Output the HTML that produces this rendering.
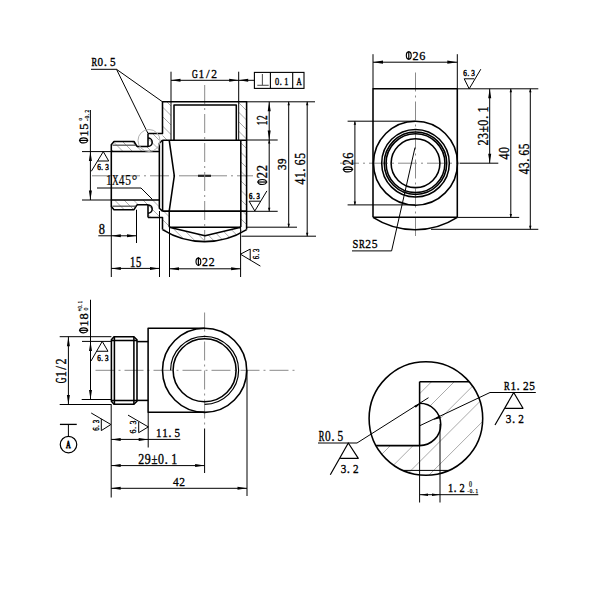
<!DOCTYPE html><html><head><meta charset="utf-8"><style>html,body{margin:0;padding:0;background:#fff;}svg{display:block}</style></head><body>
<svg width="600" height="600" viewBox="0 0 600 600" style="background:#fff">
<clipPath id="hc1"><path d="M162.5,101.8 L171,101.8 L171,140 L162.5,140 Z"/></clipPath><g clip-path="url(#hc1)" stroke="#a0a0a0" stroke-width="0.9"><line x1="117.50" y1="100" x2="159.50" y2="142"/><line x1="127.00" y1="100" x2="169.00" y2="142"/><line x1="136.50" y1="100" x2="178.50" y2="142"/><line x1="146.00" y1="100" x2="188.00" y2="142"/><line x1="155.50" y1="100" x2="197.50" y2="142"/><line x1="165.00" y1="100" x2="207.00" y2="142"/></g>
<clipPath id="hc2"><path d="M148,133.5 L162.5,133.5 L162.5,140 L159.35,140 L159.35,151.5 L137,151.5 L137,146.5 L148,146.5 Z M114,141.5 L134,141.5 L137,146.5 L137,151.5 L111.3,151.5 L111.3,144.7 Z"/></clipPath><g clip-path="url(#hc2)" stroke="#a0a0a0" stroke-width="0.9"><line x1="84.50" y1="132" x2="105.50" y2="153"/><line x1="94.00" y1="132" x2="115.00" y2="153"/><line x1="103.50" y1="132" x2="124.50" y2="153"/><line x1="113.00" y1="132" x2="134.00" y2="153"/><line x1="122.50" y1="132" x2="143.50" y2="153"/><line x1="132.00" y1="132" x2="153.00" y2="153"/><line x1="141.50" y1="132" x2="162.50" y2="153"/><line x1="151.00" y1="132" x2="172.00" y2="153"/><line x1="160.50" y1="132" x2="181.50" y2="153"/></g>
<clipPath id="hc3"><path d="M238.7,101.8 L246.6,101.8 L246.6,230.8 L240.8,227 L240.8,140 L238.7,140 Z"/></clipPath><g clip-path="url(#hc3)" stroke="#a0a0a0" stroke-width="0.9"><line x1="103.00" y1="100" x2="236.00" y2="233"/><line x1="112.50" y1="100" x2="245.50" y2="233"/><line x1="122.00" y1="100" x2="255.00" y2="233"/><line x1="131.50" y1="100" x2="264.50" y2="233"/><line x1="141.00" y1="100" x2="274.00" y2="233"/><line x1="150.50" y1="100" x2="283.50" y2="233"/><line x1="160.00" y1="100" x2="293.00" y2="233"/><line x1="169.50" y1="100" x2="302.50" y2="233"/><line x1="179.00" y1="100" x2="312.00" y2="233"/><line x1="188.50" y1="100" x2="321.50" y2="233"/><line x1="198.00" y1="100" x2="331.00" y2="233"/><line x1="207.50" y1="100" x2="340.50" y2="233"/><line x1="217.00" y1="100" x2="350.00" y2="233"/><line x1="226.50" y1="100" x2="359.50" y2="233"/><line x1="236.00" y1="100" x2="369.00" y2="233"/><line x1="245.50" y1="100" x2="378.50" y2="233"/></g>
<clipPath id="hc4"><path d="M148,204.75 L148,217.5 L162.5,217.5 L162.5,231 L169.25,227.25 L169.25,211.1 L162.5,211.1 L159.35,208.5 L159.35,199.9 L137,199.9 L137,204.75 Z M111.3,199.9 L137,199.9 L137,204.75 L134,209.7 L114,209.7 L111.3,206.5 Z"/></clipPath><g clip-path="url(#hc4)" stroke="#a0a0a0" stroke-width="0.9"><line x1="74.50" y1="198" x2="109.50" y2="233"/><line x1="84.00" y1="198" x2="119.00" y2="233"/><line x1="93.50" y1="198" x2="128.50" y2="233"/><line x1="103.00" y1="198" x2="138.00" y2="233"/><line x1="112.50" y1="198" x2="147.50" y2="233"/><line x1="122.00" y1="198" x2="157.00" y2="233"/><line x1="131.50" y1="198" x2="166.50" y2="233"/><line x1="141.00" y1="198" x2="176.00" y2="233"/><line x1="150.50" y1="198" x2="185.50" y2="233"/><line x1="160.00" y1="198" x2="195.00" y2="233"/><line x1="169.50" y1="198" x2="204.50" y2="233"/></g>
<clipPath id="hc5"><path d="M162.5,229.6 A79.5,79.5 0 0 0 246.6,229.6 L240.8,227 L205,235.8 L169.25,227 Z"/></clipPath><g clip-path="url(#hc5)" stroke="#a0a0a0" stroke-width="0.9"><line x1="131.70" y1="225" x2="150.70" y2="244"/><line x1="141.20" y1="225" x2="160.20" y2="244"/><line x1="150.70" y1="225" x2="169.70" y2="244"/><line x1="160.20" y1="225" x2="179.20" y2="244"/><line x1="169.70" y1="225" x2="188.70" y2="244"/><line x1="179.20" y1="225" x2="198.20" y2="244"/><line x1="188.70" y1="225" x2="207.70" y2="244"/><line x1="198.20" y1="225" x2="217.20" y2="244"/><line x1="207.70" y1="225" x2="226.70" y2="244"/><line x1="217.20" y1="225" x2="236.20" y2="244"/><line x1="226.70" y1="225" x2="245.70" y2="244"/><line x1="236.20" y1="225" x2="255.20" y2="244"/><line x1="245.70" y1="225" x2="264.70" y2="244"/></g>
<line x1="92" y1="175.8" x2="253" y2="175.8" stroke="#8a8a8a" stroke-width="1.0" stroke-dasharray="19 4 2 4"/>
<line x1="198" y1="175.8" x2="211" y2="175.8" stroke="#222" stroke-width="2.2"/>
<line x1="204.7" y1="85" x2="204.7" y2="240" stroke="#8a8a8a" stroke-width="1.0" stroke-dasharray="19 4 2 4"/>
<path d="M148,133.5 L162.5,133.5 L162.5,101.8 L246.6,101.8 L246.6,229.6" stroke="#000" stroke-width="1.55" fill="none" stroke-linejoin="round"/>
<path d="M137,146.5 L134,141.5 L114,141.5 L111.3,144.7 L111.3,206.5 L114,209.7 L134,209.7 L137,204.75" stroke="#000" stroke-width="1.55" fill="none" stroke-linejoin="round"/>
<line x1="137" y1="146.5" x2="148" y2="146.5" stroke="#000" stroke-width="1.55"/>
<line x1="148" y1="133.5" x2="148" y2="146.5" stroke="#000" stroke-width="1.55"/>
<path d="M148,138 A4.2,4.2 0 0 1 148,146.4" stroke="#000" stroke-width="1.55" fill="none" stroke-linejoin="round"/>
<line x1="137" y1="204.75" x2="148" y2="204.75" stroke="#000" stroke-width="1.55"/>
<line x1="148" y1="204.75" x2="148" y2="217.5" stroke="#000" stroke-width="1.55"/>
<path d="M148,204.9 A4.2,4.2 0 0 1 148,213.3" stroke="#000" stroke-width="1.55" fill="none" stroke-linejoin="round"/>
<path d="M148,217.5 L162.5,217.5 L162.5,229.6" stroke="#000" stroke-width="1.55" fill="none" stroke-linejoin="round"/>
<path d="M162.5,229.6 A79.5,79.5 0 0 0 246.6,229.6" stroke="#000" stroke-width="1.55" fill="none" stroke-linejoin="round"/>
<line x1="111.3" y1="151.5" x2="159.35" y2="151.5" stroke="#000" stroke-width="1.55"/>
<line x1="111.3" y1="199.9" x2="159.35" y2="199.9" stroke="#000" stroke-width="1.55"/>
<line x1="112.5" y1="145.2" x2="135.5" y2="145.2" stroke="#555" stroke-width="1.3"/>
<line x1="112.5" y1="206.2" x2="135.5" y2="206.2" stroke="#555" stroke-width="1.3"/>
<line x1="162.3" y1="140.2" x2="246.6" y2="140.2" stroke="#000" stroke-width="1.55"/>
<line x1="162.3" y1="211.1" x2="246.6" y2="211.1" stroke="#000" stroke-width="1.55"/>
<path d="M162.4,140.2 L159.35,143.2 L159.35,208.3 L162.4,211.1" stroke="#000" stroke-width="1.55" fill="none" stroke-linejoin="round"/>
<line x1="162.6" y1="140.2" x2="162.6" y2="211.1" stroke="#000" stroke-width="1.55"/>
<path d="M169.2,140.2 L174.3,175.8 L169.2,211.1" stroke="#000" stroke-width="1.55" fill="none" stroke-linejoin="round"/>
<path d="M174,140 L174,105 L236.3,105 L236.3,140" stroke="#000" stroke-width="1.55" fill="none" stroke-linejoin="round"/>
<line x1="171" y1="101.8" x2="171" y2="140" stroke="#000" stroke-width="1.0"/>
<line x1="238.7" y1="101.8" x2="238.7" y2="140" stroke="#000" stroke-width="1.0"/>
<line x1="240.8" y1="140" x2="240.8" y2="227" stroke="#000" stroke-width="1.55"/>
<line x1="169.25" y1="211.1" x2="169.25" y2="227.2" stroke="#000" stroke-width="1.55"/>
<line x1="169.25" y1="227.2" x2="240.8" y2="227.2" stroke="#000" stroke-width="1.55"/>
<path d="M169.25,227.2 L205,235.8 L240.8,227.2" stroke="#000" stroke-width="1.55" fill="none" stroke-linejoin="round"/>
<line x1="171" y1="71.7" x2="171" y2="101.8" stroke="#000" stroke-width="1.0"/>
<line x1="238.7" y1="71.7" x2="238.7" y2="101.8" stroke="#000" stroke-width="1.0"/>
<line x1="171" y1="80.3" x2="238.7" y2="80.3" stroke="#000" stroke-width="1.0"/>
<path d="M171,80.3 L180.50,78.80 L180.50,81.80 Z" fill="#000"/>
<path d="M238.7,80.3 L229.20,81.80 L229.20,78.80 Z" fill="#000"/>
<g transform="translate(191.80 77.90)" font-size="13.03" font-family="Liberation Serif" fill="#000" stroke="#000" text-anchor="middle"><text transform="translate(3.20 0) scale(0.612 1)" stroke-width="0.49">G</text><text transform="translate(9.60 0) scale(0.884 1)" stroke-width="0.34">1</text><text transform="translate(16.00 0) scale(1.000 1)" stroke-width="0.30">/</text><text transform="translate(22.40 0) scale(0.884 1)" stroke-width="0.34">2</text></g>
<line x1="238.7" y1="80.3" x2="254.4" y2="80.3" stroke="#000" stroke-width="1.0"/>
<path d="M238.7,80.3 L248.20,78.80 L248.20,81.80 Z" fill="#000"/>
<rect x="254.4" y="72.4" width="49.6" height="16" fill="none" stroke="#000" stroke-width="1.1"/>
<line x1="270.4" y1="72.4" x2="270.4" y2="88.4" stroke="#000" stroke-width="1.1"/>
<line x1="292.7" y1="72.4" x2="292.7" y2="88.4" stroke="#000" stroke-width="1.1"/>
<line x1="262.4" y1="74" x2="262.4" y2="85.3" stroke="#555" stroke-width="1.1"/>
<line x1="257.3" y1="85.3" x2="268.7" y2="85.3" stroke="#555" stroke-width="1.1"/>
<g transform="translate(274.80 84.60)" font-size="9.85" font-family="Liberation Serif" fill="#000" stroke="#000" text-anchor="middle"><text transform="translate(2.30 0) scale(0.841 1)" stroke-width="0.36">0</text><text transform="translate(5.98 0) scale(1.000 1)" stroke-width="0.30">.</text><text transform="translate(11.50 0) scale(0.841 1)" stroke-width="0.36">1</text></g>
<g transform="translate(296.10 84.60)" font-size="9.85" font-family="Liberation Serif" fill="#000" stroke="#000" text-anchor="middle"><text transform="translate(2.90 0) scale(0.734 1)" stroke-width="0.41">A</text></g>
<g transform="translate(91.10 65.90)" font-size="13.33" font-family="Liberation Serif" fill="#000" stroke="#000" text-anchor="middle"><text transform="translate(3.10 0) scale(0.627 1)" stroke-width="0.48">R</text><text transform="translate(9.30 0) scale(0.837 1)" stroke-width="0.36">0</text><text transform="translate(14.26 0) scale(1.000 1)" stroke-width="0.30">.</text><text transform="translate(21.70 0) scale(0.837 1)" stroke-width="0.36">5</text></g>
<line x1="91" y1="69.3" x2="116.5" y2="69.3" stroke="#000" stroke-width="1.0"/>
<line x1="116.5" y1="69.3" x2="162.5" y2="101.8" stroke="#000" stroke-width="1.0"/>
<line x1="116.5" y1="69.3" x2="148" y2="133.5" stroke="#000" stroke-width="1.0"/>
<circle cx="149" cy="140.5" r="11" stroke="#b0b0b0" stroke-width="1.0" fill="none"/>
<line x1="246.6" y1="101.8" x2="315" y2="101.8" stroke="#000" stroke-width="1.0"/>
<line x1="246.6" y1="140" x2="277.7" y2="140" stroke="#000" stroke-width="1.0"/>
<line x1="246.6" y1="211.3" x2="277.7" y2="211.3" stroke="#000" stroke-width="1.0"/>
<line x1="246.6" y1="227.2" x2="297" y2="227.2" stroke="#000" stroke-width="1.0"/>
<line x1="241.5" y1="236.2" x2="316" y2="236.2" stroke="#000" stroke-width="1.0"/>
<line x1="269.2" y1="101.8" x2="269.2" y2="211.3" stroke="#000" stroke-width="1.0"/>
<path d="M269.2,101.8 L270.70,111.30 L267.70,111.30 Z" fill="#000"/>
<path d="M269.2,140 L267.70,130.50 L270.70,130.50 Z" fill="#000"/>
<path d="M269.2,140 L270.40,143.50 L268.00,143.50 Z" fill="#000"/>
<path d="M269.2,211.3 L268.00,207.80 L270.40,207.80 Z" fill="#000"/>
<line x1="288.7" y1="101.8" x2="288.7" y2="227.2" stroke="#000" stroke-width="1.0"/>
<path d="M288.7,101.8 L289.90,105.30 L287.50,105.30 Z" fill="#000"/>
<path d="M288.7,227.2 L287.50,223.70 L289.90,223.70 Z" fill="#000"/>
<line x1="307.2" y1="101.8" x2="307.2" y2="236.2" stroke="#000" stroke-width="1.0"/>
<path d="M307.2,101.8 L308.40,105.30 L306.00,105.30 Z" fill="#000"/>
<path d="M307.2,236.2 L306.00,232.70 L308.40,232.70 Z" fill="#000"/>
<g transform="translate(266.65 125.40) rotate(-90)" font-size="14.09" font-family="Liberation Serif" fill="#000" stroke="#000" text-anchor="middle"><text transform="translate(2.58 0) scale(0.658 1)" stroke-width="0.46">1</text><text transform="translate(7.73 0) scale(0.658 1)" stroke-width="0.46">2</text></g>
<g transform="translate(267.00 185.50) rotate(-90)" font-size="14.39" font-family="Liberation Serif" fill="#000" stroke="#000" text-anchor="middle"><ellipse cx="3.47" cy="-4.75" rx="2.50" ry="4.18" fill="none" stroke-width="1.15"/><line x1="3.47" y1="-9.79" x2="3.47" y2="0.28" stroke-width="1.2"/><text transform="translate(10.40 0) scale(0.867 1)" stroke-width="0.35">2</text><text transform="translate(17.33 0) scale(0.867 1)" stroke-width="0.35">2</text></g>
<g transform="translate(286.40 170.40) rotate(-90)" font-size="13.33" font-family="Liberation Serif" fill="#000" stroke="#000" text-anchor="middle"><text transform="translate(3.08 0) scale(0.830 1)" stroke-width="0.36">3</text><text transform="translate(9.23 0) scale(0.830 1)" stroke-width="0.36">9</text></g>
<g transform="translate(304.90 184.90) rotate(-90)" font-size="14.85" font-family="Liberation Serif" fill="#000" stroke="#000" text-anchor="middle"><text transform="translate(3.23 0) scale(0.783 1)" stroke-width="0.38">4</text><text transform="translate(9.69 0) scale(0.783 1)" stroke-width="0.38">1</text><text transform="translate(14.86 0) scale(1.000 1)" stroke-width="0.30">.</text><text transform="translate(22.61 0) scale(0.783 1)" stroke-width="0.38">6</text><text transform="translate(29.07 0) scale(0.783 1)" stroke-width="0.38">5</text></g>
<path d="M249.1,201.2 L260.6,201.2" stroke="#000" stroke-width="1.0" fill="none" stroke-linejoin="round"/>
<path d="M249.1,201.2 L254.8,211 L266.9,190.9" stroke="#000" stroke-width="1.0" fill="none" stroke-linejoin="round"/>
<g transform="translate(248.90 198.60)" font-size="8.48" font-family="Liberation Serif" fill="#000" stroke="#000" text-anchor="middle"><text transform="translate(1.87 0) scale(0.792 1)" stroke-width="0.57">6</text><text transform="translate(4.85 0) scale(1.000 1)" stroke-width="0.45">.</text><text transform="translate(9.33 0) scale(0.792 1)" stroke-width="0.57">3</text></g>
<path d="M260.4,266.1 L240.4,254.2 L250.2,249.1 L250.2,260.1" stroke="#000" stroke-width="1.0" fill="none" stroke-linejoin="round"/>
<g transform="translate(259.00 259.40) rotate(-90)" font-size="8.79" font-family="Liberation Serif" fill="#000" stroke="#000" text-anchor="middle"><text transform="translate(1.83 0) scale(0.751 1)" stroke-width="0.40">6</text><text transform="translate(4.77 0) scale(1.000 1)" stroke-width="0.30">.</text><text transform="translate(9.17 0) scale(0.751 1)" stroke-width="0.40">3</text></g>
<line x1="90.4" y1="110" x2="90.4" y2="200" stroke="#000" stroke-width="1.0"/>
<line x1="82" y1="151.6" x2="111.3" y2="151.6" stroke="#000" stroke-width="1.0"/>
<line x1="82" y1="200" x2="111.3" y2="200" stroke="#000" stroke-width="1.0"/>
<path d="M90.4,151.6 L91.90,161.10 L88.90,161.10 Z" fill="#000"/>
<path d="M90.4,200 L88.90,190.50 L91.90,190.50 Z" fill="#000"/>
<g transform="translate(88.00 143.90) rotate(-90)" font-size="13.33" font-family="Liberation Serif" fill="#000" stroke="#000" text-anchor="middle"><ellipse cx="3.47" cy="-4.40" rx="2.50" ry="3.87" fill="none" stroke-width="1.15"/><line x1="3.47" y1="-9.06" x2="3.47" y2="0.26" stroke-width="1.2"/><text transform="translate(10.40 0) scale(0.936 1)" stroke-width="0.32">1</text><text transform="translate(17.33 0) scale(0.936 1)" stroke-width="0.32">5</text></g>
<g transform="translate(82.00 120.90) rotate(-90)" font-size="4.77" font-family="Liberation Serif" fill="#000" stroke="#000" text-anchor="middle"><text transform="translate(1.70 0) scale(1.000 1)" stroke-width="0.20">0</text></g>
<g transform="translate(88.80 121.80) rotate(-90)" font-size="6.52" font-family="Liberation Serif" fill="#000" stroke="#000" text-anchor="middle"><text transform="translate(1.53 0) scale(1.000 1)" stroke-width="0.20">-</text><text transform="translate(4.58 0) scale(0.843 1)" stroke-width="0.24">0</text><text transform="translate(7.02 0) scale(1.000 1)" stroke-width="0.20">.</text><text transform="translate(10.68 0) scale(0.843 1)" stroke-width="0.24">2</text></g>
<path d="M91.3,171.3 L103.3,151.6 L108.7,161 L97.5,161" stroke="#000" stroke-width="1.0" fill="none" stroke-linejoin="round"/>
<g transform="translate(97.00 170.20)" font-size="8.64" font-family="Liberation Serif" fill="#000" stroke="#000" text-anchor="middle"><text transform="translate(2.00 0) scale(0.834 1)" stroke-width="0.48">6</text><text transform="translate(5.20 0) scale(1.000 1)" stroke-width="0.40">.</text><text transform="translate(10.00 0) scale(0.834 1)" stroke-width="0.48">3</text></g>
<g transform="translate(105.80 184.60)" font-size="13.94" font-family="Liberation Serif" fill="#000" stroke="#000" text-anchor="middle"><text transform="translate(3.18 0) scale(0.821 1)" stroke-width="0.18">1</text><text transform="translate(9.54 0) scale(0.664 1)" stroke-width="0.23">X</text><text transform="translate(15.90 0) scale(0.821 1)" stroke-width="0.18">4</text><text transform="translate(22.26 0) scale(0.821 1)" stroke-width="0.18">5</text><text transform="translate(28.62 0) scale(1.000 1)" stroke-width="0.15">°</text></g>
<path d="M97,188 L141,188 L152.3,199.3" stroke="#000" stroke-width="1.0" fill="none" stroke-linejoin="round"/>
<line x1="136.5" y1="209.7" x2="136.5" y2="243" stroke="#000" stroke-width="1.0"/>
<line x1="111.3" y1="206.5" x2="111.3" y2="277" stroke="#000" stroke-width="1.0"/>
<line x1="98.3" y1="235.8" x2="136.5" y2="235.8" stroke="#000" stroke-width="1.0"/>
<path d="M111.3,235.8 L120.80,234.30 L120.80,237.30 Z" fill="#000"/>
<path d="M136.5,235.8 L127.00,237.30 L127.00,234.30 Z" fill="#000"/>
<g transform="translate(98.40 233.65)" font-size="14.17" font-family="Liberation Serif" fill="#000" stroke="#000" text-anchor="middle"><text transform="translate(3.45 0) scale(0.877 1)" stroke-width="0.34">8</text></g>
<line x1="159.5" y1="211" x2="159.5" y2="277" stroke="#000" stroke-width="1.0"/>
<line x1="111.3" y1="268.4" x2="159.5" y2="268.4" stroke="#000" stroke-width="1.0"/>
<path d="M111.3,268.4 L120.80,266.90 L120.80,269.90 Z" fill="#000"/>
<path d="M159.5,268.4 L150.00,269.90 L150.00,266.90 Z" fill="#000"/>
<g transform="translate(129.80 266.60)" font-size="14.39" font-family="Liberation Serif" fill="#000" stroke="#000" text-anchor="middle"><text transform="translate(2.95 0) scale(0.738 1)" stroke-width="0.41">1</text><text transform="translate(8.85 0) scale(0.738 1)" stroke-width="0.41">5</text></g>
<line x1="169.5" y1="227" x2="169.5" y2="277" stroke="#000" stroke-width="1.0"/>
<line x1="240.6" y1="227" x2="240.6" y2="277" stroke="#000" stroke-width="1.0"/>
<line x1="169.5" y1="268.8" x2="240.6" y2="268.8" stroke="#000" stroke-width="1.0"/>
<path d="M169.5,268.8 L179.00,267.30 L179.00,270.30 Z" fill="#000"/>
<path d="M240.6,268.8 L231.10,270.30 L231.10,267.30 Z" fill="#000"/>
<g transform="translate(195.10 265.70)" font-size="12.27" font-family="Liberation Serif" fill="#000" stroke="#000" text-anchor="middle"><ellipse cx="3.30" cy="-4.05" rx="2.38" ry="3.56" fill="none" stroke-width="1.15"/><line x1="3.30" y1="-8.34" x2="3.30" y2="0.24" stroke-width="1.2"/><text transform="translate(9.90 0) scale(0.968 1)" stroke-width="0.31">2</text><text transform="translate(16.50 0) scale(0.968 1)" stroke-width="0.31">2</text></g>
<line x1="415.5" y1="72.5" x2="415.5" y2="236" stroke="#8a8a8a" stroke-width="1.0" stroke-dasharray="19 4 2 4"/>
<line x1="340" y1="163.2" x2="460" y2="163.2" stroke="#8a8a8a" stroke-width="1.0" stroke-dasharray="19 4 2 4"/>
<path d="M373,217.3 L373,88.8 L457.3,88.8 L457.3,217.3" stroke="#000" stroke-width="1.55" fill="none" stroke-linejoin="round"/>
<line x1="373" y1="217.3" x2="457.3" y2="217.3" stroke="#000" stroke-width="1.55"/>
<path d="M373,217.3 A78,78 0 0 0 457.3,217.3" stroke="#000" stroke-width="1.55" fill="none" stroke-linejoin="round"/>
<circle cx="415.5" cy="163.2" r="42" stroke="#000" stroke-width="1.55" fill="none"/>
<circle cx="415.5" cy="163.2" r="33.8" stroke="#000" stroke-width="1.55" fill="none"/>
<circle cx="415.5" cy="163.2" r="31.2" stroke="#000" stroke-width="1.55" fill="none"/>
<circle cx="415.5" cy="163.2" r="29.4" stroke="#000" stroke-width="1.55" fill="none"/>
<circle cx="415.5" cy="163.2" r="24.4" stroke="#000" stroke-width="1.55" fill="none"/>
<line x1="373" y1="54.2" x2="373" y2="88.8" stroke="#000" stroke-width="1.0"/>
<line x1="457.3" y1="54.2" x2="457.3" y2="88.8" stroke="#000" stroke-width="1.0"/>
<line x1="373" y1="62.2" x2="457.3" y2="62.2" stroke="#000" stroke-width="1.0"/>
<path d="M373,62.2 L383.00,60.60 L383.00,63.80 Z" fill="#000"/>
<path d="M457.3,62.2 L447.30,63.80 L447.30,60.60 Z" fill="#000"/>
<g transform="translate(405.40 59.60)" font-size="12.42" font-family="Liberation Serif" fill="#000" stroke="#000" text-anchor="middle"><ellipse cx="3.38" cy="-4.10" rx="2.44" ry="3.61" fill="none" stroke-width="1.15"/><line x1="3.38" y1="-8.45" x2="3.38" y2="0.25" stroke-width="1.2"/><text transform="translate(10.15 0) scale(0.980 1)" stroke-width="0.31">2</text><text transform="translate(16.92 0) scale(0.980 1)" stroke-width="0.31">6</text></g>
<line x1="347.6" y1="121.2" x2="415" y2="121.2" stroke="#000" stroke-width="1.0"/>
<line x1="347.6" y1="204.9" x2="415" y2="204.9" stroke="#000" stroke-width="1.0"/>
<line x1="354.9" y1="121.2" x2="354.9" y2="204.9" stroke="#000" stroke-width="1.0"/>
<path d="M354.9,121.2 L356.10,124.70 L353.70,124.70 Z" fill="#000"/>
<path d="M354.9,204.9 L353.70,201.40 L356.10,201.40 Z" fill="#000"/>
<g transform="translate(352.90 172.90) rotate(-90)" font-size="15.00" font-family="Liberation Serif" fill="#000" stroke="#000" text-anchor="middle"><ellipse cx="3.47" cy="-4.95" rx="2.50" ry="4.36" fill="none" stroke-width="1.15"/><line x1="3.47" y1="-10.20" x2="3.47" y2="0.30" stroke-width="1.2"/><text transform="translate(10.40 0) scale(0.832 1)" stroke-width="0.36">2</text><text transform="translate(17.33 0) scale(0.832 1)" stroke-width="0.36">6</text></g>
<line x1="457.3" y1="88.8" x2="538.3" y2="88.8" stroke="#000" stroke-width="1.0"/>
<line x1="457.3" y1="217.4" x2="519.2" y2="217.4" stroke="#000" stroke-width="1.0"/>
<line x1="431" y1="229.3" x2="538.3" y2="229.3" stroke="#000" stroke-width="1.0"/>
<line x1="460" y1="163.2" x2="498.3" y2="163.2" stroke="#000" stroke-width="1.0"/>
<line x1="489.7" y1="88.8" x2="489.7" y2="163.2" stroke="#000" stroke-width="1.0"/>
<path d="M489.7,88.8 L491.20,98.30 L488.20,98.30 Z" fill="#000"/>
<path d="M489.7,163.2 L488.20,153.70 L491.20,153.70 Z" fill="#000"/>
<line x1="510.8" y1="88.8" x2="510.8" y2="217.4" stroke="#000" stroke-width="1.0"/>
<path d="M510.8,88.8 L512.00,92.30 L509.60,92.30 Z" fill="#000"/>
<path d="M510.8,217.4 L509.60,213.90 L512.00,213.90 Z" fill="#000"/>
<line x1="530.3" y1="88.8" x2="530.3" y2="229.3" stroke="#000" stroke-width="1.0"/>
<path d="M530.3,88.8 L531.50,92.30 L529.10,92.30 Z" fill="#000"/>
<path d="M530.3,229.3 L529.10,225.80 L531.50,225.80 Z" fill="#000"/>
<g transform="translate(487.90 145.90) rotate(-90)" font-size="13.79" font-family="Liberation Serif" fill="#000" stroke="#000" text-anchor="middle"><text transform="translate(3.32 0) scale(0.866 1)" stroke-width="0.35">2</text><text transform="translate(9.95 0) scale(0.866 1)" stroke-width="0.35">3</text><text transform="translate(16.58 0) scale(0.789 1)" stroke-width="0.38">±</text><text transform="translate(23.22 0) scale(0.866 1)" stroke-width="0.35">0</text><text transform="translate(28.52 0) scale(1.000 1)" stroke-width="0.30">.</text><text transform="translate(36.48 0) scale(0.866 1)" stroke-width="0.35">1</text></g>
<g transform="translate(509.20 159.90) rotate(-90)" font-size="13.79" font-family="Liberation Serif" fill="#000" stroke="#000" text-anchor="middle"><text transform="translate(3.28 0) scale(0.855 1)" stroke-width="0.35">4</text><text transform="translate(9.83 0) scale(0.855 1)" stroke-width="0.35">0</text></g>
<g transform="translate(528.60 174.60) rotate(-90)" font-size="14.85" font-family="Liberation Serif" fill="#000" stroke="#000" text-anchor="middle"><text transform="translate(3.12 0) scale(0.756 1)" stroke-width="0.40">4</text><text transform="translate(9.36 0) scale(0.756 1)" stroke-width="0.40">3</text><text transform="translate(14.35 0) scale(1.000 1)" stroke-width="0.30">.</text><text transform="translate(21.84 0) scale(0.756 1)" stroke-width="0.40">6</text><text transform="translate(28.08 0) scale(0.756 1)" stroke-width="0.40">5</text></g>
<path d="M464.2,78.8 L474.2,78.8" stroke="#000" stroke-width="1.0" fill="none" stroke-linejoin="round"/>
<path d="M464.2,78.8 L469.2,88.8 L480.8,69.2" stroke="#000" stroke-width="1.0" fill="none" stroke-linejoin="round"/>
<g transform="translate(463.00 75.75)" font-size="8.33" font-family="Liberation Serif" fill="#000" stroke="#000" text-anchor="middle"><text transform="translate(2.00 0) scale(0.864 1)" stroke-width="0.46">6</text><text transform="translate(5.20 0) scale(1.000 1)" stroke-width="0.40">.</text><text transform="translate(10.00 0) scale(0.864 1)" stroke-width="0.46">3</text></g>
<path d="M415,147.5 L391.6,250.9 L352,250.9" stroke="#000" stroke-width="1.0" fill="none" stroke-linejoin="round"/>
<g transform="translate(352.10 247.90)" font-size="12.73" font-family="Liberation Serif" fill="#000" stroke="#000" text-anchor="middle"><text transform="translate(3.22 0) scale(0.820 1)" stroke-width="0.37">S</text><text transform="translate(9.67 0) scale(0.684 1)" stroke-width="0.44">R</text><text transform="translate(16.12 0) scale(0.912 1)" stroke-width="0.33">2</text><text transform="translate(22.57 0) scale(0.912 1)" stroke-width="0.33">5</text></g>
<line x1="95.5" y1="370.3" x2="296" y2="370.3" stroke="#8a8a8a" stroke-width="1.0" stroke-dasharray="19 4 2 4"/>
<line x1="204.6" y1="312.5" x2="204.6" y2="428.5" stroke="#8a8a8a" stroke-width="1.0" stroke-dasharray="19 4 2 4"/>
<line x1="204.6" y1="428.5" x2="204.6" y2="473" stroke="#000" stroke-width="1.0"/>
<path d="M204.6,328.3 L148.1,328.3 L148.1,412.3 L204.6,412.3" stroke="#000" stroke-width="1.55" fill="none" stroke-linejoin="round"/>
<circle cx="204.6" cy="370.3" r="42.1" stroke="#000" stroke-width="1.55" fill="none"/>
<circle cx="204.6" cy="370.3" r="31.5" stroke="#000" stroke-width="1.55" fill="none"/>
<path d="M170.6,370.3 A34,34 0 1 1 204.6,404.3" stroke="#000" stroke-width="1.2" fill="none" stroke-linejoin="round"/>
<path d="M148.1,341.6 L137.1,341.6" stroke="#000" stroke-width="1.55" fill="none" stroke-linejoin="round"/>
<path d="M148.1,400.4 L137.1,400.4" stroke="#000" stroke-width="1.55" fill="none" stroke-linejoin="round"/>
<path d="M114,336.75 L133.9,336.75 L137,339.75 L137,401.25 L133.9,404.25 L114,404.25 L111.4,401.25 L111.4,339.75 Z" stroke="#000" stroke-width="1.55" fill="none" stroke-linejoin="round"/>
<line x1="114.4" y1="336.75" x2="114.4" y2="404.25" stroke="#000" stroke-width="1.55"/>
<line x1="133.9" y1="336.75" x2="133.9" y2="404.25" stroke="#000" stroke-width="1.55"/>
<line x1="111.4" y1="340.5" x2="137" y2="340.5" stroke="#000" stroke-width="1.55"/>
<line x1="111.4" y1="400.5" x2="137" y2="400.5" stroke="#000" stroke-width="1.55"/>
<line x1="59.7" y1="336.7" x2="111.4" y2="336.7" stroke="#000" stroke-width="1.0"/>
<line x1="59.7" y1="404.5" x2="111.4" y2="404.5" stroke="#000" stroke-width="1.0"/>
<line x1="68.4" y1="336.7" x2="68.4" y2="404.5" stroke="#000" stroke-width="1.0"/>
<path d="M68.4,336.7 L69.90,346.20 L66.90,346.20 Z" fill="#000"/>
<path d="M68.4,404.5 L66.90,395.00 L69.90,395.00 Z" fill="#000"/>
<g transform="translate(66.00 383.65) rotate(-90)" font-size="13.86" font-family="Liberation Serif" fill="#000" stroke="#000" text-anchor="middle"><text transform="translate(3.16 0) scale(0.569 1)" stroke-width="0.53">G</text><text transform="translate(9.49 0) scale(0.821 1)" stroke-width="0.37">1</text><text transform="translate(15.81 0) scale(1.000 1)" stroke-width="0.30">/</text><text transform="translate(22.14 0) scale(0.821 1)" stroke-width="0.37">2</text></g>
<line x1="82" y1="341.4" x2="111.4" y2="341.4" stroke="#000" stroke-width="1.0"/>
<line x1="81.7" y1="399.5" x2="111.4" y2="399.5" stroke="#000" stroke-width="1.0"/>
<line x1="90.5" y1="299.75" x2="90.5" y2="399.5" stroke="#000" stroke-width="1.0"/>
<path d="M90.5,341.4 L92.00,350.90 L89.00,350.90 Z" fill="#000"/>
<path d="M90.5,399.5 L89.00,390.00 L92.00,390.00 Z" fill="#000"/>
<g transform="translate(88.00 333.80) rotate(-90)" font-size="13.33" font-family="Liberation Serif" fill="#000" stroke="#000" text-anchor="middle"><ellipse cx="3.47" cy="-4.40" rx="2.50" ry="3.87" fill="none" stroke-width="1.15"/><line x1="3.47" y1="-9.06" x2="3.47" y2="0.26" stroke-width="1.2"/><text transform="translate(10.40 0) scale(0.936 1)" stroke-width="0.32">1</text><text transform="translate(17.33 0) scale(0.936 1)" stroke-width="0.32">8</text></g>
<g transform="translate(82.40 311.30) rotate(-90)" font-size="6.52" font-family="Liberation Serif" fill="#000" stroke="#000" text-anchor="middle"><text transform="translate(1.34 0) scale(0.655 1)" stroke-width="0.31">+</text><text transform="translate(4.01 0) scale(0.739 1)" stroke-width="0.27">0</text><text transform="translate(6.15 0) scale(1.000 1)" stroke-width="0.20">.</text><text transform="translate(9.36 0) scale(0.739 1)" stroke-width="0.27">1</text></g>
<g transform="translate(88.40 310.80) rotate(-90)" font-size="5.91" font-family="Liberation Serif" fill="#000" stroke="#000" text-anchor="middle"><text transform="translate(1.72 0) scale(1.000 1)" stroke-width="0.20">0</text></g>
<path d="M91,361 L102.25,341.4 L108,351.25 L97,351.25" stroke="#000" stroke-width="1.0" fill="none" stroke-linejoin="round"/>
<g transform="translate(97.00 360.50)" font-size="8.71" font-family="Liberation Serif" fill="#000" stroke="#000" text-anchor="middle"><text transform="translate(1.96 0) scale(0.809 1)" stroke-width="0.49">6</text><text transform="translate(5.09 0) scale(1.000 1)" stroke-width="0.40">.</text><text transform="translate(9.79 0) scale(0.809 1)" stroke-width="0.49">3</text></g>
<line x1="59.9" y1="424.4" x2="76.75" y2="424.4" stroke="#000" stroke-width="1.3"/>
<line x1="68.4" y1="424.4" x2="68.4" y2="436.5" stroke="#000" stroke-width="1.0"/>
<circle cx="68.5" cy="444.6" r="8.25" stroke="#000" stroke-width="1.2" fill="none"/>
<g transform="translate(65.70 448.20)" font-size="10.76" font-family="Liberation Serif" fill="#000" stroke="#000" text-anchor="middle"><text transform="translate(2.60 0) scale(0.603 1)" stroke-width="0.83">A</text></g>
<path d="M91.2,413 L110.9,424.5 L101.3,430.6 L101.3,418.9" stroke="#000" stroke-width="1.0" fill="none" stroke-linejoin="round"/>
<g transform="translate(98.50 430.90) rotate(-90)" font-size="9.09" font-family="Liberation Serif" fill="#000" stroke="#000" text-anchor="middle"><text transform="translate(1.88 0) scale(0.746 1)" stroke-width="0.40">6</text><text transform="translate(4.90 0) scale(1.000 1)" stroke-width="0.30">.</text><text transform="translate(9.42 0) scale(0.746 1)" stroke-width="0.40">3</text></g>
<path d="M128,415.1 L148.3,426.9 L138.7,432.7 L138.7,422" stroke="#000" stroke-width="1.0" fill="none" stroke-linejoin="round"/>
<g transform="translate(135.80 433.60) rotate(-90)" font-size="9.09" font-family="Liberation Serif" fill="#000" stroke="#000" text-anchor="middle"><text transform="translate(2.23 0) scale(0.884 1)" stroke-width="0.34">6</text><text transform="translate(5.81 0) scale(1.000 1)" stroke-width="0.30">.</text><text transform="translate(11.17 0) scale(0.884 1)" stroke-width="0.34">3</text></g>
<line x1="111.2" y1="404.3" x2="111.2" y2="497.5" stroke="#000" stroke-width="1.0"/>
<line x1="148.2" y1="412.3" x2="148.2" y2="447.5" stroke="#000" stroke-width="1.0"/>
<line x1="111.2" y1="439.4" x2="180.3" y2="439.4" stroke="#000" stroke-width="1.0"/>
<path d="M111.2,439.4 L120.70,437.90 L120.70,440.90 Z" fill="#000"/>
<path d="M148.2,439.4 L138.70,440.90 L138.70,437.90 Z" fill="#000"/>
<g transform="translate(155.80 436.90)" font-size="13.33" font-family="Liberation Serif" fill="#000" stroke="#000" text-anchor="middle"><text transform="translate(3.05 0) scale(0.824 1)" stroke-width="0.36">1</text><text transform="translate(9.15 0) scale(0.824 1)" stroke-width="0.36">1</text><text transform="translate(14.03 0) scale(1.000 1)" stroke-width="0.30">.</text><text transform="translate(21.35 0) scale(0.824 1)" stroke-width="0.36">5</text></g>
<line x1="111.2" y1="465.6" x2="204.6" y2="465.6" stroke="#000" stroke-width="1.0"/>
<path d="M111.2,465.6 L120.70,464.10 L120.70,467.10 Z" fill="#000"/>
<path d="M204.6,465.6 L195.10,467.10 L195.10,464.10 Z" fill="#000"/>
<g transform="translate(137.80 463.60)" font-size="13.94" font-family="Liberation Serif" fill="#000" stroke="#000" text-anchor="middle"><text transform="translate(3.32 0) scale(0.857 1)" stroke-width="0.35">2</text><text transform="translate(9.95 0) scale(0.857 1)" stroke-width="0.35">9</text><text transform="translate(16.58 0) scale(0.780 1)" stroke-width="0.38">±</text><text transform="translate(23.22 0) scale(0.857 1)" stroke-width="0.35">0</text><text transform="translate(28.52 0) scale(1.000 1)" stroke-width="0.30">.</text><text transform="translate(36.48 0) scale(0.857 1)" stroke-width="0.35">1</text></g>
<line x1="247" y1="370.3" x2="247" y2="496" stroke="#000" stroke-width="1.0"/>
<line x1="111.2" y1="488.3" x2="247" y2="488.3" stroke="#000" stroke-width="1.0"/>
<path d="M111.2,488.3 L120.70,486.80 L120.70,489.80 Z" fill="#000"/>
<path d="M247,488.3 L237.50,489.80 L237.50,486.80 Z" fill="#000"/>
<g transform="translate(172.60 486.15)" font-size="12.95" font-family="Liberation Serif" fill="#000" stroke="#000" text-anchor="middle"><text transform="translate(3.20 0) scale(0.889 1)" stroke-width="0.34">4</text><text transform="translate(9.60 0) scale(0.889 1)" stroke-width="0.34">2</text></g>
<clipPath id="dc"><circle cx="425.9" cy="418.5" r="56.8"/></clipPath>
<g clip-path="url(#dc)">
<clipPath id="hc6"><path d="M419.6,381.7 L490,381.7 L490,480 L360,480 L360,445.6 L419.6,445.6 A21,21 0 0 0 419.6,403.3 Z"/></clipPath><g clip-path="url(#hc6)" stroke="#a0a0a0" stroke-width="0.9"><line x1="347.50" y1="375" x2="242.50" y2="480"/><line x1="370.20" y1="375" x2="265.20" y2="480"/><line x1="392.90" y1="375" x2="287.90" y2="480"/><line x1="415.60" y1="375" x2="310.60" y2="480"/><line x1="438.30" y1="375" x2="333.30" y2="480"/><line x1="461.00" y1="375" x2="356.00" y2="480"/><line x1="483.70" y1="375" x2="378.70" y2="480"/><line x1="506.40" y1="375" x2="401.40" y2="480"/><line x1="529.10" y1="375" x2="424.10" y2="480"/><line x1="551.80" y1="375" x2="446.80" y2="480"/><line x1="574.50" y1="375" x2="469.50" y2="480"/></g>
<line x1="419.6" y1="381.7" x2="490" y2="381.7" stroke="#000" stroke-width="1.55"/>
<line x1="360" y1="445.6" x2="419.6" y2="445.6" stroke="#000" stroke-width="1.55"/>
<line x1="400" y1="470.4" x2="460" y2="470.4" stroke="#000" stroke-width="1.0"/>
</g>
<circle cx="425.9" cy="418.5" r="56.8" stroke="#000" stroke-width="1.55" fill="none"/>
<line x1="419.6" y1="381.7" x2="419.6" y2="446" stroke="#000" stroke-width="1.55"/>
<path d="M419.6,403.3 A21,21 0 0 1 419.6,445.6" stroke="#000" stroke-width="1.55" fill="none" stroke-linejoin="round"/>
<line x1="419.6" y1="445.6" x2="419.6" y2="502.5" stroke="#000" stroke-width="1.0"/>
<line x1="440" y1="424" x2="440" y2="502.5" stroke="#000" stroke-width="1.0"/>
<line x1="420" y1="494.7" x2="478.3" y2="494.7" stroke="#000" stroke-width="1.0"/>
<path d="M420,494.7 L428.00,493.40 L428.00,496.00 Z" fill="#000"/>
<path d="M440,494.7 L432.00,496.00 L432.00,493.40 Z" fill="#000"/>
<g transform="translate(447.60 492.40)" font-size="13.03" font-family="Liberation Serif" fill="#000" stroke="#000" text-anchor="middle"><text transform="translate(2.88 0) scale(0.797 1)" stroke-width="0.38">1</text><text transform="translate(7.50 0) scale(1.000 1)" stroke-width="0.30">.</text><text transform="translate(14.42 0) scale(0.797 1)" stroke-width="0.38">2</text></g>
<g transform="translate(468.80 487.40)" font-size="7.27" font-family="Liberation Serif" fill="#000" stroke="#000" text-anchor="middle"><text transform="translate(1.65 0) scale(0.817 1)" stroke-width="0.24">0</text></g>
<g transform="translate(466.80 492.90)" font-size="6.52" font-family="Liberation Serif" fill="#000" stroke="#000" text-anchor="middle"><text transform="translate(1.42 0) scale(1.000 1)" stroke-width="0.20">-</text><text transform="translate(4.27 0) scale(0.787 1)" stroke-width="0.25">0</text><text transform="translate(6.55 0) scale(1.000 1)" stroke-width="0.20">.</text><text transform="translate(9.97 0) scale(0.787 1)" stroke-width="0.25">1</text></g>
<g transform="translate(318.40 440.60)" font-size="13.94" font-family="Liberation Serif" fill="#000" stroke="#000" text-anchor="middle"><text transform="translate(3.15 0) scale(0.610 1)" stroke-width="0.49">R</text><text transform="translate(9.45 0) scale(0.814 1)" stroke-width="0.37">0</text><text transform="translate(14.49 0) scale(1.000 1)" stroke-width="0.30">.</text><text transform="translate(22.05 0) scale(0.814 1)" stroke-width="0.37">5</text></g>
<path d="M318,443 L357,443 L428.5,397.7" stroke="#000" stroke-width="1.0" fill="none" stroke-linejoin="round"/>
<path d="M421,403 L415.77,407.83 L414.39,405.64 Z" fill="#000"/>
<path d="M330.3,474.7 L348.3,443 L358.3,458.3 L340.3,458.3" stroke="#000" stroke-width="1.2" fill="none" stroke-linejoin="round"/>
<g transform="translate(340.40 472.60)" font-size="12.88" font-family="Liberation Serif" fill="#000" stroke="#000" text-anchor="middle"><text transform="translate(3.08 0) scale(0.862 1)" stroke-width="0.35">3</text><text transform="translate(8.02 0) scale(1.000 1)" stroke-width="0.30">.</text><text transform="translate(15.42 0) scale(0.862 1)" stroke-width="0.35">2</text></g>
<g transform="translate(503.80 390.20)" font-size="13.33" font-family="Liberation Serif" fill="#000" stroke="#000" text-anchor="middle"><text transform="translate(3.14 0) scale(0.636 1)" stroke-width="0.47">R</text><text transform="translate(9.42 0) scale(0.848 1)" stroke-width="0.35">1</text><text transform="translate(14.44 0) scale(1.000 1)" stroke-width="0.30">.</text><text transform="translate(21.98 0) scale(0.848 1)" stroke-width="0.35">2</text><text transform="translate(28.26 0) scale(0.848 1)" stroke-width="0.35">5</text></g>
<path d="M535.8,392.5 L490,392.5 L419.6,425.8" stroke="#000" stroke-width="1.0" fill="none" stroke-linejoin="round"/>
<path d="M433,420 L439.57,415.20 L440.87,417.90 Z" fill="#000"/>
<path d="M495,425 L513.7,392.5 L523,408.3 L505.3,408.3" stroke="#000" stroke-width="1.2" fill="none" stroke-linejoin="round"/>
<g transform="translate(505.40 422.90)" font-size="13.03" font-family="Liberation Serif" fill="#000" stroke="#000" text-anchor="middle"><text transform="translate(3.12 0) scale(0.861 1)" stroke-width="0.35">3</text><text transform="translate(8.10 0) scale(1.000 1)" stroke-width="0.30">.</text><text transform="translate(15.58 0) scale(0.861 1)" stroke-width="0.35">2</text></g>
</svg></body></html>
